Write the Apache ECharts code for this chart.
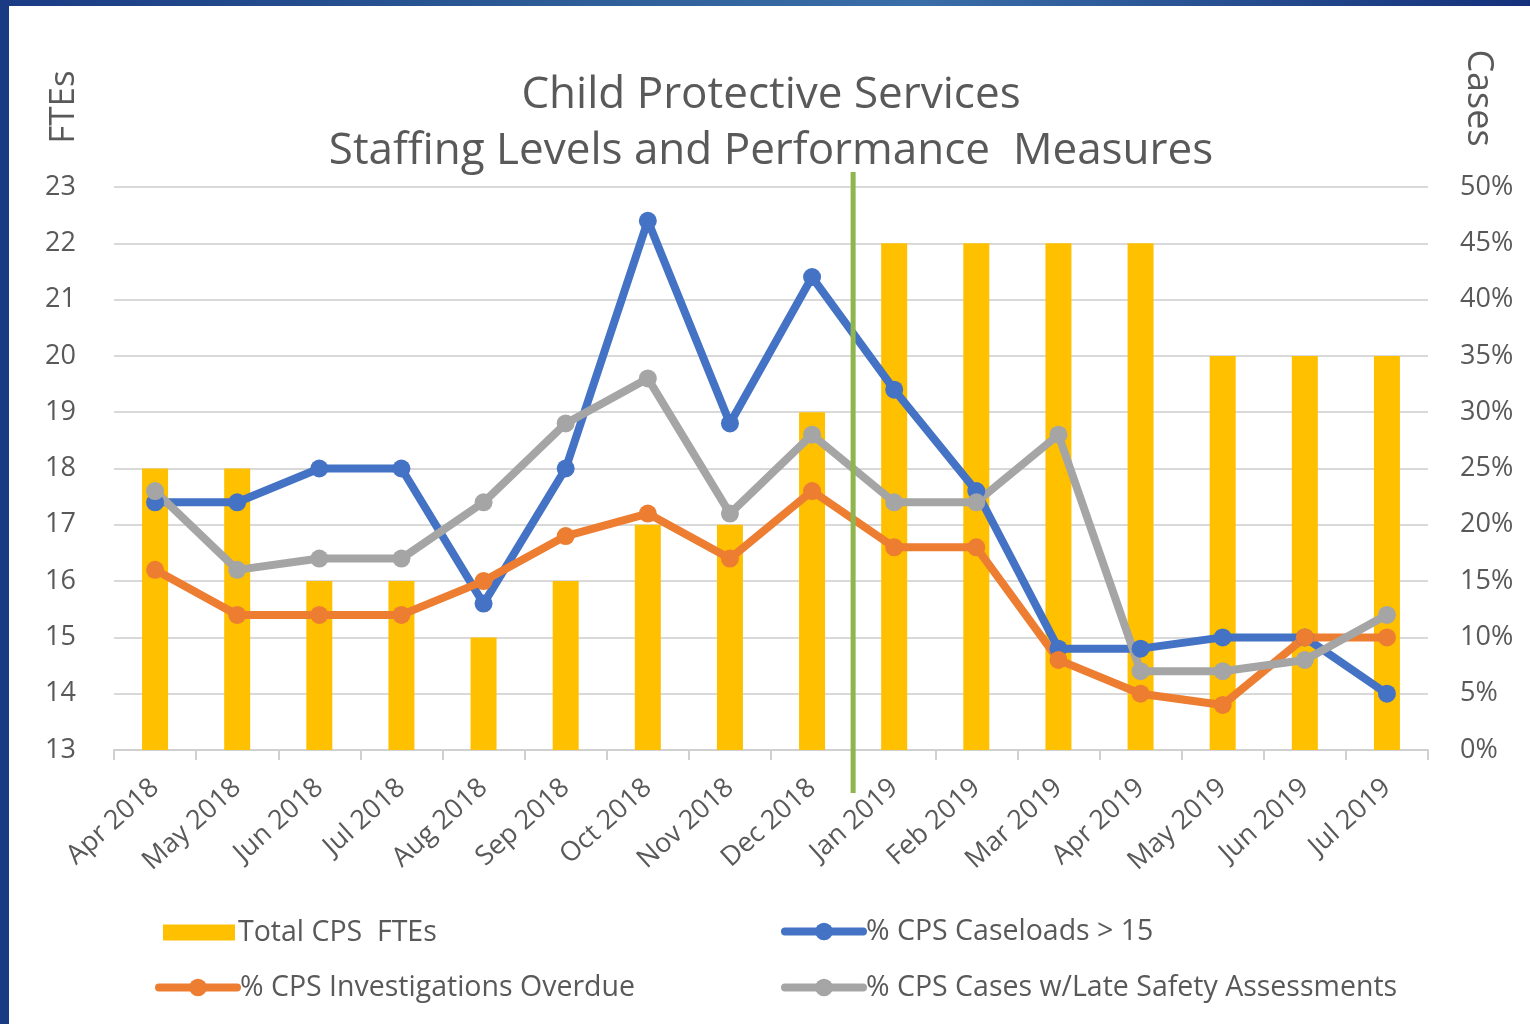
<!DOCTYPE html>
<html>
<head>
<meta charset="utf-8">
<script src="https://cdn.jsdelivr.net/npm/echarts@6/dist/echarts.min.js"></script>
<style>
html,body{margin:0;padding:0;background:#fff;}
#topbar{position:absolute;left:0;top:0;width:1530px;height:6px;background:linear-gradient(90deg,#1a3b84 0%,#2f5f98 40%,#3a6ea8 60%,#14307a 100%);z-index:2;}
#leftbar{position:absolute;left:0;top:0;width:9px;height:1024px;background:#1a3b84;z-index:2;}
#chart{position:absolute;left:0;top:0;width:1530px;height:1024px;}
</style>
</head>
<body>
<div id="chart"></div>
<div id="topbar"></div>
<div id="leftbar"></div>
<script>
const categories = ['Apr 2018','May 2018','Jun 2018','Jul 2018','Aug 2018','Sep 2018','Oct 2018','Nov 2018','Dec 2018','Jan 2019','Feb 2019','Mar 2019','Apr 2019','May 2019','Jun 2019','Jul 2019'];
const totalFTEs = [18,18,16,16,15,16,17,17,19,22,22,22,22,20,20,20];
const caseloadsOver15 = [22,22,25,25,13,25,47,29,42,32,23,9,9,10,10,5];
const investigationsOverdue = [16,12,12,12,15,19,21,17,23,18,18,8,5,4,10,10];
const lateSafety = [23,16,17,17,22,29,33,21,28,22,22,28,7,7,8,12];
const leftTicks = {min:13, max:23, interval:1};
const rightTicks = {min:0, max:50, interval:5};
const dividerAfter = 'Dec 2018';
const dividerBefore = 'Jan 2019';

const FONT = '"Open Sans", "Noto Sans", sans-serif';
const GRAY = '#595959';
const chart = echarts.init(document.getElementById('chart'));
const lineSeries = (name, data, color) => ({
  name: name, type:'line', yAxisIndex:1, data: data,
  symbol:'circle', symbolSize:18, showSymbol:true,
  lineStyle:{width:8, color: color, cap:'round', join:'round'},
  itemStyle:{color: color},
  emphasis:{disabled:true},
  z:3
});
const legendBase = {orient:'horizontal', itemWidth:78, itemHeight:22, itemGap:0,
  lineStyle:{width:8},
  textStyle:{fontFamily:FONT, fontSize:28.5, color:GRAY, padding:[0,0,0,-2]}};
chart.setOption({
  backgroundColor:'#fff',
  animation:false,
  title:{
    text:'Child Protective Services\nStaffing Levels and Performance  Measures',
    left:766, top:62, textAlign:'center',
    textStyle:{fontFamily:FONT, fontSize:44, fontWeight:'normal', color:GRAY, lineHeight:56}
  },
  legend:[
    Object.assign({}, legendBase, {left:158, top:913, data:[{name:'Total CPS  FTEs', icon:'rect'}], itemWidth:72, itemHeight:16}),
    Object.assign({}, legendBase, {left:776, top:912, data:['% CPS Caseloads > 15']}),
    Object.assign({}, legendBase, {left:150, top:968, data:['% CPS Investigations Overdue']}),
    Object.assign({}, legendBase, {left:776, top:968, data:['% CPS Cases w/Late Safety Assessments']})
  ],
  grid:{left:114, right:102, top:187, bottom:274, containLabel:false},
  xAxis:{
    type:'category', data:categories, boundaryGap:true,
    axisLine:{lineStyle:{color:'#d0d0d0', width:2}},
    axisTick:{show:true, length:10, lineStyle:{color:'#d0d0d0', width:2}},
    axisLabel:{rotate:42, fontFamily:FONT, fontSize:27, color:GRAY, margin:34, interval:0}
  },
  yAxis:[
    {type:'value', min:leftTicks.min, max:leftTicks.max, interval:leftTicks.interval,
     axisLine:{show:false}, axisTick:{show:false},
     axisLabel:{fontFamily:FONT, fontSize:27, color:GRAY, margin:38},
     splitLine:{lineStyle:{color:'#d9d9d9', width:2}}},
    {type:'value', min:rightTicks.min, max:rightTicks.max, interval:rightTicks.interval,
     axisLine:{show:false}, axisTick:{show:false},
     axisLabel:{fontFamily:FONT, fontSize:27, color:GRAY, margin:32, formatter:'{value}%'},
     splitLine:{show:false}}
  ],
  series:[
    {name:'Total CPS  FTEs', type:'bar', yAxisIndex:0, data:totalFTEs, barWidth:26,
     itemStyle:{color:'#ffc000'}, z:2},
    lineSeries('% CPS Caseloads > 15', caseloadsOver15, '#4472c4'),
    lineSeries('% CPS Investigations Overdue', investigationsOverdue, '#ed7d31'),
    lineSeries('% CPS Cases w/Late Safety Assessments', lateSafety, '#a5a5a5')
  ]
});
const x1 = chart.convertToPixel({xAxisIndex:0}, dividerAfter);
const x2 = chart.convertToPixel({xAxisIndex:0}, dividerBefore);
const xd = (x1 + x2) / 2;
const yTop = chart.convertToPixel({yAxisIndex:0}, leftTicks.max) - 15;
const yBot = chart.convertToPixel({yAxisIndex:0}, leftTicks.min) + 43;
chart.setOption({
  graphic:[
    {type:'line', shape:{x1:xd, y1:yTop, x2:xd, y2:yBot}, style:{stroke:'#8fb64e', lineWidth:5}, z:10},
    {type:'text', x:64, y:107, rotation:Math.PI/2, style:{text:'FTEs', font:'35px "Open Sans", sans-serif', fill:GRAY, align:'center', verticalAlign:'middle'}},
    {type:'text', x:1478, y:98, rotation:-Math.PI/2, style:{text:'Cases', font:'36px "Open Sans", sans-serif', fill:GRAY, align:'center', verticalAlign:'middle'}}
  ]
});
</script>
</body>
</html>
